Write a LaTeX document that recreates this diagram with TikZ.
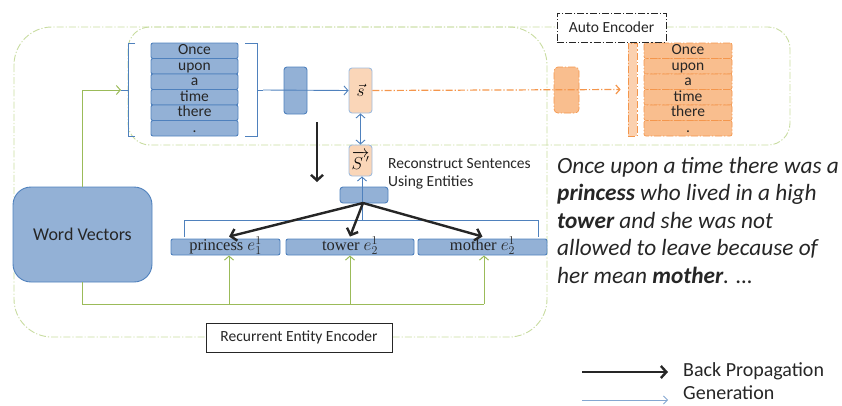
\documentclass[tikz,border=0pt]{standalone}
\usepackage{fontspec}
\setmainfont{Carlito}
\newfontfamily\serifc{Liberation Serif}
\usetikzlibrary{arrows.meta}
\definecolor{bfill}{RGB}{147,177,214}
\definecolor{bline}{RGB}{79,129,189}
\definecolor{sfill}{RGB}{250,214,184}
\definecolor{sline}{RGB}{160,188,222}
\definecolor{ofill}{RGB}{249,190,142}
\definecolor{oline}{RGB}{244,150,76}
\definecolor{gline}{RGB}{155,187,89}
\definecolor{gdash}{RGB}{200,220,160}
\tikzset{
  ddot/.style={dash pattern=on 7pt off 2pt on 1.2pt off 2pt},
  wbox/.style={draw=bline, fill=bfill, line width=0.9pt, rounded corners=2pt, minimum width=87pt, minimum height=15.5pt, inner sep=0pt, text height=10pt, text depth=2.5pt, font=\fontsize{15.5}{15.5}\selectfont, text=black!85},
  obox/.style={draw=oline, fill=ofill, ddot, line width=0.7pt, rounded corners=2pt, minimum width=88pt, minimum height=15.5pt, inner sep=0pt, text height=10pt, text depth=2.5pt, font=\fontsize{15.5}{15.5}\selectfont, text=black!85},
  bbox/.style={draw=bline, fill=bfill, line width=0.9pt, rounded corners=3pt, inner sep=0pt},
  sbox/.style={draw=sline, fill=sfill, line width=0.9pt, rounded corners=3pt, inner sep=0pt, minimum width=23pt},
  ebox/.style={draw=bline, fill=bfill, line width=0.9pt, rounded corners=2pt, inner sep=0pt, minimum height=16pt, text height=10pt, text depth=3pt, font=\serifc\fontsize{16.5}{16.5}\selectfont, text=black!85},
  garrow/.style={draw=gline, line width=1pt, -{Straight Barb[length=4pt,width=9pt]}},
  gline/.style={draw=gline, line width=1pt},
  barrow/.style={draw=bline, line width=0.9pt, -{Straight Barb[length=4pt,width=9pt]}},
  bpline/.style={draw=black!85, line width=2.4pt, -{Straight Barb[length=5.5pt,width=12pt,line width=2.4pt]}},
  brk/.style={draw=bline, line width=1pt},
  gframe/.style={draw=gdash, line width=0.9pt, ddot},
  lbl/.style={font=\fontsize{15.5}{15.5}\selectfont, text=black!85, inner sep=0pt},
  story/.style={anchor=base west, inner sep=0pt, font=\fontsize{23.3}{23.3}\selectfont\itshape, text=black!85},
}
\begin{document}
\begin{tikzpicture}[x=1pt,y=-1pt]
\useasboundingbox (0,0) rectangle (842,405);
% frames
\draw[gframe, rounded corners=38pt] (14,27) rectangle (547,337);
\draw[gframe, rounded corners=22pt] (128,27) rectangle (790,145);
% word boxes
\foreach \t [count=\i from 0] in {Once,upon,a,time,there,.}{
  \node[wbox] (b\i) at (194.5,{50.75+15.5*\i}) {\t};
  \node[obox] (o\i) at (688,{50.75+15.5*\i}) {\t};
}
% brackets
\draw[brk] (135,43) -- (128,43) -- (128,136) -- (135,136);
\coordinate (lbr) at (121,90);
\draw[brk] (128,90) -- (lbr);
\draw[brk] (245,43) -- (257,43) -- (257,136) -- (245,136);
\coordinate (rbr) at (263,90);
\draw[brk] (257,90) -- (rbr);
% small boxes
\node[bbox, minimum width=23pt, minimum height=47pt] (hb) at (295.5,90.5) {};
\node[sbox, minimum height=45pt, font=\fontsize{19}{19}\selectfont] (s) at (360.5,90.5) {$\vec{s}$};
\node[sbox, minimum height=31pt, font=\fontsize{16}{16}\selectfont] (sp) at (360.5,160.5) {$\overrightarrow{S\,'}$};
\node[draw=oline, fill=ofill, ddot, line width=0.7pt, rounded corners=4pt, minimum width=25pt, minimum height=46pt, inner sep=0pt] (oh) at (566.5,90) {};
\node[draw=oline, fill=ofill!70, ddot, line width=0.7pt, minimum width=9pt, minimum height=93pt, inner sep=0pt] (obar) at (632.5,89.5) {};
\draw[barrow] (rbr) -- (s.west);
\draw[draw=oline, line width=1.2pt, ddot, -{Straight Barb[length=4pt,width=9pt]}] (s.east) -- ([xshift=-7pt]obar.west);
\draw[draw=bline, line width=0.9pt, {Straight Barb[length=4pt,width=9pt]}-{Straight Barb[length=4pt,width=9pt]}] (s.south) -- (sp.north);
% auto encoder label
\node[draw=black!85, fill=white, line width=0.8pt, ddot, minimum width=109pt, minimum height=29pt, lbl] (ae) at (611.5,27.5) {Auto Encoder};
% lower part
\node[bbox, minimum width=48pt, minimum height=16pt] (mb) at (364,195) {};
\node[ebox, minimum width=109pt] (pe) at (225.5,247) {princess $e_1^1$};
\node[ebox, minimum width=128pt] (te) at (350,247) {tower $e_2^1$};
\node[ebox, minimum width=129pt] (me) at (482.5,247) {mother $e_2^1$};
\draw[brk] (184,237) -- (184,220) -- (538,220) -- (538,237);
\coordinate (mbr) at (362,220);
\draw[barrow] (mbr) -- (sp.south -| mbr);
\node[lbl, anchor=west, align=left] (rc) at (388,174) {Reconstruct Sentences\\[2pt]Using Entities};
\draw[bpline] (317,122) -- (317,182);
\coordinate (mbs) at (363,203);
\draw[bpline] (mbs) -- ([xshift=3.5pt,yshift=2pt]pe.north);
\draw[bpline] (mbs) -- ([yshift=2pt]te.north);
\draw[bpline] (mbs) -- ([yshift=2pt]me.north);
% word vectors
\node[bbox, rounded corners=18pt, minimum width=139pt, minimum height=95pt, font=\fontsize{18}{18}\selectfont, text=black!85] (wv) at (82.5,234.5) {Word Vectors};
\draw[garrow] (wv.north) -- (wv.north |- lbr) -- (lbr);
\coordinate (gb) at (82.5,304);
\coordinate (g1) at (229,304);
\coordinate (g2) at (350,304);
\coordinate (g3) at (484,304);
\draw[gline] (wv.south) -- (gb) -- (g3);
\draw[garrow] (g1) -- ([xshift=3.5pt]pe.south);
\draw[garrow] (g2) -- (te.south);
\draw[garrow] (g3) -- ([xshift=1.5pt]me.south);
% recurrent label
\node[draw=black!85, fill=white, line width=0.8pt, minimum width=186pt, minimum height=29pt, lbl] (re) at (299,337.5) {Recurrent Entity Encoder};
% story
\node[story] (l1) at (557,173) {Once upon a time there was a};
\node[story] (l2) at (557,200.5) {{\bfseries princess} who lived in a high};
\node[story] (l3) at (557,228) {{\bfseries tower} and she was not};
\node[story] (l4) at (557,255.5) {allowed to leave because of};
\node[story] (l5) at (557,283) {her mean {\bfseries mother}. …};
% legend
\coordinate (la1) at (582,372);
\coordinate (la2) at (668,372);
\coordinate (lb1) at (582,400);
\coordinate (lb2) at (668,400);
\draw[bpline, line width=2pt] (la1) -- (la2);
\draw[draw=bline!70, line width=0.8pt, -{Straight Barb[length=4pt,width=8pt]}] (lb1) -- (lb2);
\node[anchor=west, inner sep=0pt, font=\fontsize{20}{20}\selectfont, text=black!85] (lg1) at (683,371) {Back Propagation};
\node[anchor=west, inner sep=0pt, font=\fontsize{20}{20}\selectfont, text=black!85] (lg2) at (683,393) {Generation};
\end{tikzpicture}
\end{document}
